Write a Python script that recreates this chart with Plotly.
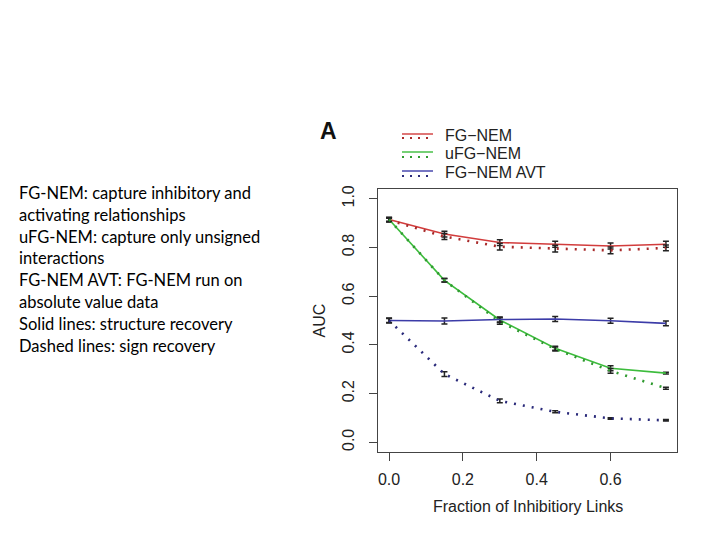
import plotly.graph_objects as go

frac = [0.0, 0.15, 0.30, 0.45, 0.60, 0.75]

fg_struct = [0.915, 0.855, 0.820, 0.813, 0.806, 0.813]
fg_struct_err = [0.008, 0.012, 0.012, 0.012, 0.012, 0.012]
fg_sign = [0.912, 0.845, 0.803, 0.795, 0.788, 0.798]
fg_sign_err = [0.008, 0.012, 0.014, 0.014, 0.014, 0.012]

ufg_struct = [0.915, 0.665, 0.502, 0.386, 0.304, 0.284]
ufg_struct_err = [0.008, 0.007, 0.010, 0.008, 0.010, 0.004]
ufg_sign = [0.915, 0.665, 0.495, 0.383, 0.293, 0.222]
ufg_sign_err = [0.008, 0.007, 0.010, 0.008, 0.010, 0.004]

avt_struct = [0.500, 0.498, 0.504, 0.506, 0.499, 0.488]
avt_struct_err = [0.010, 0.012, 0.010, 0.010, 0.010, 0.010]
avt_sign = [0.500, 0.280, 0.170, 0.125, 0.098, 0.090]
avt_sign_err = [0.008, 0.010, 0.008, 0.004, 0.003, 0.003]

legend_names = ["FG\u2212NEM", "uFG\u2212NEM", "FG\u2212NEM AVT"]
x_ticks = [0.0, 0.2, 0.4, 0.6]
y_ticks = [0.0, 0.2, 0.4, 0.6, 0.8, 1.0]
x_title = "Fraction of Inhibitiory Links"
y_title = "AUC"

notes = [
    "FG-NEM: capture inhibitory and",
    "activating relationships",
    "uFG-NEM: capture only unsigned",
    "interactions",
    "FG-NEM AVT: FG-NEM run on",
    "absolute value data",
    "Solid lines: structure recovery",
    "Dashed lines: sign recovery",
]

RED = "#d23c3c"
RED_D = "#a82a2a"
GREEN = "#3cbc3c"
GREEN_D = "#2f9a2f"
BLUE = "#3c3ca8"
BLUE_D = "#2a2a7a"

OFF = 8  # page body margin
W, H = 704, 540 - 2 * OFF
L, R, T, B = 378 - OFF, 677 - OFF, 189 - OFF, 452 - OFF


def px_x(px):
    return (px - OFF - L) / (R - L)


def px_y(py):
    return (B - (py - OFF)) / (B - T)


fig = go.Figure()

series = [
    (fg_struct, fg_struct_err, RED, "solid"),
    (fg_sign, fg_sign_err, RED_D, "2px,7px"),
    (ufg_struct, ufg_struct_err, GREEN, "solid"),
    (ufg_sign, ufg_sign_err, GREEN_D, "2px,7px"),
    (avt_struct, avt_struct_err, BLUE, "solid"),
    (avt_sign, avt_sign_err, BLUE_D, "2px,7px"),
]
for vals, errs, col, dash in series:
    fig.add_trace(go.Scatter(
        x=frac, y=vals, mode="lines",
        line=dict(color=col, width=1.6 if dash == "solid" else 2.6, dash=dash),
        error_y=dict(type="data", array=errs, visible=True,
                     color="#222222", thickness=1.5, width=3),
        showlegend=False, hoverinfo="skip",
    ))

FONT = "Liberation Sans, Arial, sans-serif"
axis_common = dict(
    showline=True, mirror=True, linecolor="#444444", linewidth=1.3,
    ticks="outside", ticklen=8, tickcolor="#444444", tickwidth=1.2,
    showgrid=False, zeroline=False,
    tickfont=dict(family=FONT, size=16, color="#222222"),
)

fig.update_xaxes(
    range=[-0.03, 0.78], tickvals=x_ticks, ticktext=[f"{v:.1f}" for v in x_ticks],
    ticklabelstandoff=5,
    **axis_common,
)
fig.update_yaxes(
    range=[-0.04, 1.04], tickvals=y_ticks, ticktext=[f"{v:.1f}" for v in y_ticks],
    tickangle=-90, ticklabelstandoff=8,
    title=dict(text=y_title, standoff=10,
               font=dict(family=FONT, size=16, color="#222222")),
    **axis_common,
)

shapes = []
annotations = []

# x-axis title
annotations.append(dict(xref="paper", yref="paper", x=0.5, y=px_y(506),
                        xanchor="center", yanchor="middle", showarrow=False,
                        text=x_title,
                        font=dict(family=FONT, size=16, color="#222222")))

# custom legend (solid over dotted pairs)
leg_rows = [(134, 138), (152, 157), (171, 176)]
leg_cols = [(RED, RED_D), (GREEN, GREEN_D), (BLUE, BLUE_D)]
for name, (ys, yd), (cs, cd) in zip(legend_names, leg_rows, leg_cols):
    shapes.append(dict(type="line", xref="paper", yref="paper",
                       x0=px_x(402), x1=px_x(433), y0=px_y(ys), y1=px_y(ys),
                       line=dict(color=cs, width=1.4)))
    shapes.append(dict(type="line", xref="paper", yref="paper",
                       x0=px_x(402), x1=px_x(433), y0=px_y(yd), y1=px_y(yd),
                       line=dict(color=cd, width=2.2, dash="2px,6px")))
    annotations.append(dict(xref="paper", yref="paper", x=px_x(443), y=px_y(ys + 1),
                            xanchor="left", yanchor="middle", showarrow=False,
                            text=name,
                            font=dict(family=FONT, size=16, color="#222222")))

annotations.append(dict(xref="paper", yref="paper", x=px_x(328), y=px_y(131),
                        xanchor="center", yanchor="middle", showarrow=False,
                        text="<b>A</b>",
                        font=dict(family=FONT, size=23, color="#111111")))

for i, line in enumerate(notes):
    annotations.append(dict(xref="paper", yref="paper", x=px_x(17), y=px_y(193 + i * 21.8),
                            xanchor="left", yanchor="middle", showarrow=False,
                            text=line,
                            font=dict(family="Lato, Noto Sans, sans-serif", size=16.5,
                                      color="#000000")))

fig.update_layout(
    width=W, height=H,
    margin=dict(l=L, r=W - R, t=T, b=H - B, autoexpand=False),
    paper_bgcolor="white", plot_bgcolor="white",
    shapes=shapes, annotations=annotations,
)

fig.write_html("out.html")
